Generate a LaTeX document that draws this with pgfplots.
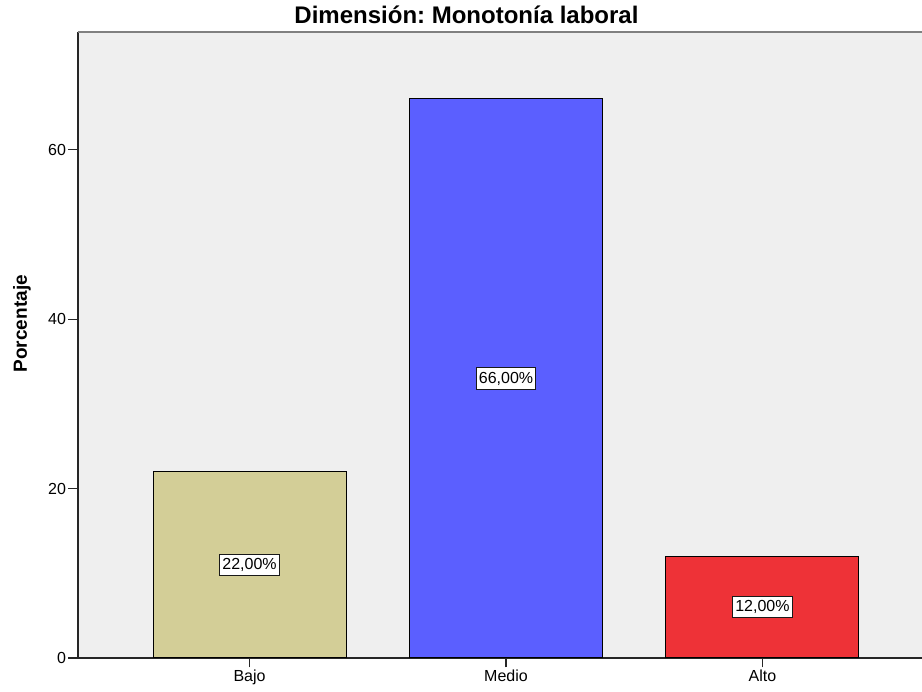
\documentclass[border=0pt]{standalone}
\usepackage{pgfplots}
\pgfplotsset{compat=1.18}
\usepackage{pgfplotstable}
\usepackage{fontspec}
\setmainfont{Liberation Sans}
\frenchspacing

\definecolor{bajocol}{RGB}{211,206,151}
\definecolor{mediocol}{RGB}{91,95,255}
\definecolor{altocol}{RGB}{238,50,55}
\definecolor{plotbg}{RGB}{239,239,239}
\definecolor{topline}{RGB}{128,128,128}

% porcentaje por nivel
\pgfplotstableread{
x v
1 22
2 66
3 12
}\datatable

\begin{document}
\begin{tikzpicture}[x=1pt,y=1pt]
\path[use as bounding box] (-78,-34) rectangle (844,658);
\begin{axis}[
  at={(0,0)}, anchor=south west,
  scale only axis, width=844pt, height=626pt,
  xmin=0.331, xmax=3.622,
  ymin=0, ymax=73.9,
  axis x line*=bottom, axis y line*=left,
  axis line style={line width=1.3pt, black!85},
  axis background/.style={fill=plotbg},
  xtick={1,2,3}, xticklabels={Bajo,Medio,Alto},
  ytick={0,20,40,60},
  tick align=outside,
  major tick length=9.5pt,
  tick style={line width=1.2pt, black!85},
  tick label style={font=\fontsize{16}{18}\selectfont},
  yticklabel style={xshift=1pt},
  xticklabel style={yshift=1pt},
  /pgf/number format/assume math mode=true,
  ylabel={\textbf{Porcentaje}},
  ylabel style={font=\fontsize{19}{21}\selectfont,
    at={(axis description cs:-0.0665,0.534)}, anchor=center},
  clip=false,
]
\draw[topline, line width=2.6pt] (rel axis cs:0,1) -- (rel axis cs:1,1);
\node[font=\bfseries\fontsize{24}{27}\selectfont, anchor=base]
  at (rel axis cs:0.4603,1) [yshift=8pt] {Dimensión: Monotonía laboral};

\addplot[ybar, bar width=193pt, bar shift=0pt, fill=bajocol, draw=black, line width=1pt]
  table[x=x, y=v, restrict expr to domain={\thisrow{x}}{1:1}] {\datatable};
\addplot[ybar, bar width=193pt, bar shift=0pt, fill=mediocol, draw=black, line width=1pt]
  table[x=x, y=v, restrict expr to domain={\thisrow{x}}{2:2}] {\datatable};
\addplot[ybar, bar width=193pt, bar shift=0pt, fill=altocol, draw=black, line width=1pt]
  table[x=x, y=v, restrict expr to domain={\thisrow{x}}{3:3}] {\datatable};

% etiquetas a media altura de cada barra
\addplot[only marks, mark=none, point meta=explicit,
  nodes near coords={\pgfmathprintnumber[fixed,fixed zerofill,precision=2,use comma]{\pgfplotspointmeta}\%},
  every node near coord/.style={anchor=center, fill=white, draw=black!90, line width=1pt,
    inner xsep=2.5pt, inner ysep=4pt, font=\fontsize{16}{18}\selectfont}]
  table[x=x, y expr=\thisrow{v}/2, meta=v] {\datatable};
\end{axis}
\end{tikzpicture}
\end{document}
